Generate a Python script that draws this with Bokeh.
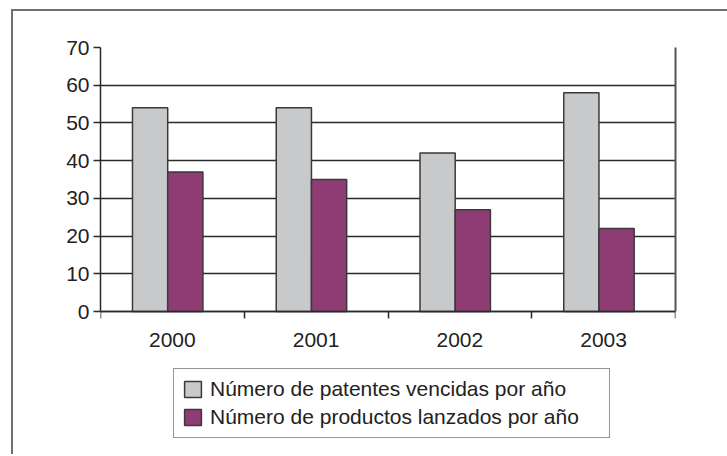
from bokeh.plotting import figure
from bokeh.models import FixedTicker, Legend, LegendItem, Range1d, LinearAxis
from bokeh.embed import file_html
from bokeh.resources import INLINE

years = ["2000", "2001", "2002", "2003"]
patentes = [54, 54, 42, 58]
productos = [37, 35, 27, 22]
serie_names = ["Número de patentes vencidas por año", "Número de productos lanzados por año"]
y_ticks = [0, 10, 20, 30, 40, 50, 60, 70]

GRAY = "#c8c9cb"
PURPLE = "#8e3c73"
DARK = "#2a2a2a"
FONT = "Liberation Sans"

# Frame spans from the 70 line down to the bottom of the chart box, so that the
# legend (drawn inside the frame) is not clipped; 0..70 occupies the top 264 px.
FRAME_H = 407
Y_MAX = 70
y_min = -Y_MAX * (FRAME_H - 264) / 264

p = figure(frame_width=575, frame_height=FRAME_H, output_backend="svg", toolbar_location=None,
           x_axis_location=None,
           x_range=Range1d(0, len(years)), y_range=Range1d(y_min, Y_MAX),
           min_border_left=87, min_border_right=52, min_border_top=36, min_border_bottom=0)
p.styles = {"margin-left": "11px", "margin-top": "9px",
            "border-top": "2px solid #707070", "border-left": "2px solid #707070"}
p.background_fill_color = "white"
p.border_fill_color = "white"
p.outline_line_color = None

xc = [i + 0.5 for i in range(len(years))]
r1 = p.vbar(x=[c - 0.155 for c in xc], top=patentes, width=0.245, fill_color=GRAY,
            line_color="#3a3a3a", line_width=1.5)
r2 = p.vbar(x=[c + 0.09 for c in xc], top=productos, width=0.245, fill_color=PURPLE,
            line_color="#3a3a3a", line_width=1.5)

p.xgrid.visible = False
p.ygrid.ticker = FixedTicker(ticks=y_ticks)
p.ygrid.grid_line_color = DARK
p.ygrid.grid_line_width = 1.5

p.yaxis.ticker = FixedTicker(ticks=y_ticks)
p.yaxis.bounds = (0, Y_MAX)
p.yaxis.major_tick_in = 0
p.yaxis.major_tick_out = 7
p.yaxis.minor_tick_line_color = None
p.yaxis.axis_line_color = DARK
p.yaxis.axis_line_width = 1.5
p.yaxis.major_tick_line_color = DARK
p.yaxis.major_tick_line_width = 1.5
p.yaxis.major_label_text_font = FONT
p.yaxis.major_label_text_font_size = "21px"
p.yaxis.major_label_text_color = "#222222"
p.yaxis.major_label_standoff = 4

# category axis drawn at y = 0 (ticks and labels pointing down)
xaxis = LinearAxis(fixed_location=0,
                   ticker=FixedTicker(ticks=xc, minor_ticks=list(range(len(years) + 1))),
                   major_label_overrides={c: y for c, y in zip(xc, years)})
xaxis.major_tick_line_color = None
xaxis.major_tick_in = 0
xaxis.major_tick_out = 0
xaxis.minor_tick_in = 7
xaxis.minor_tick_out = 0
xaxis.minor_tick_line_color = DARK
xaxis.minor_tick_line_width = 1.5
xaxis.axis_line_color = DARK
xaxis.axis_line_width = 1.5
xaxis.major_label_text_font = FONT
xaxis.major_label_text_font_size = "21px"
xaxis.major_label_text_color = "#222222"
xaxis.major_label_standoff = -35
p.add_layout(xaxis, "above")

# right edge of the plot area
raxis = LinearAxis(bounds=(0, Y_MAX), ticker=FixedTicker(ticks=[]))
raxis.axis_line_color = "#555555"
raxis.axis_line_width = 2
raxis.major_tick_line_color = None
raxis.minor_tick_line_color = None
p.add_layout(raxis, "right")

legend = Legend(items=[LegendItem(label=serie_names[0], renderers=[r1]),
                       LegendItem(label=serie_names[1], renderers=[r2])],
                location=(73, 16))
legend.label_text_font = FONT
legend.label_text_font_size = "21px"
legend.label_text_color = "#222222"
legend.glyph_width = 21
legend.glyph_height = 20
legend.label_height = 20
legend.label_width = 391
legend.spacing = 4
legend.padding = 8
legend.label_standoff = 7
legend.border_line_color = DARK
legend.border_line_width = 1.5
legend.background_fill_alpha = 1
legend.margin = 0
p.add_layout(legend)

open("out.html", "w").write(file_html(p, INLINE))
